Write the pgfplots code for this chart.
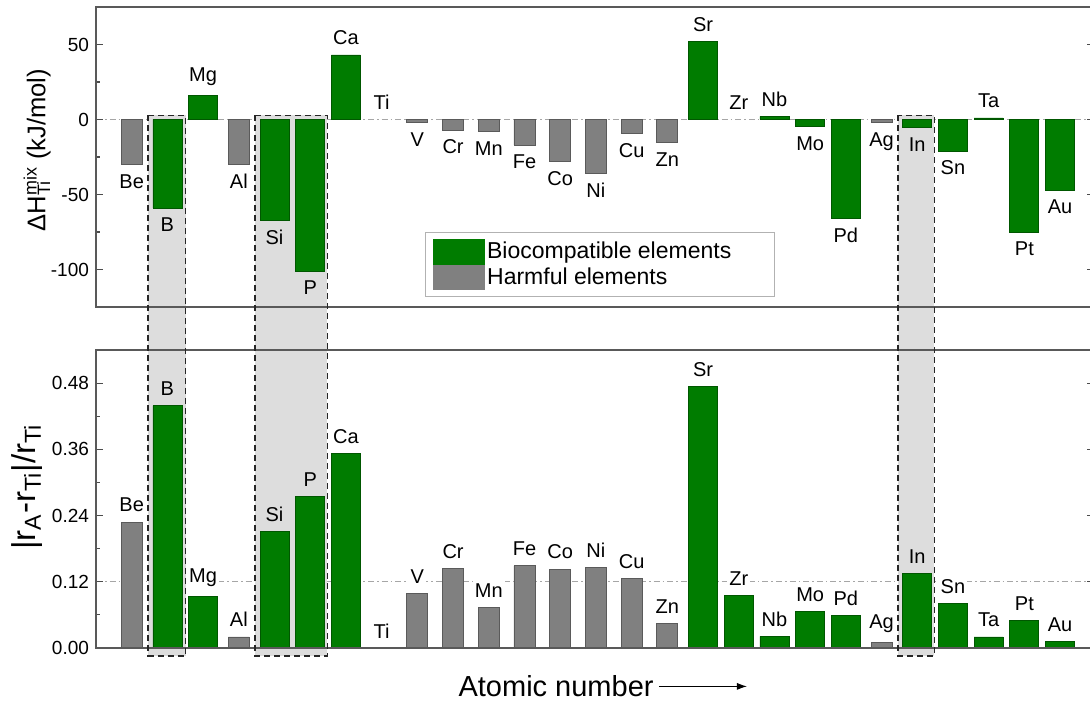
\documentclass[border=0pt]{standalone}
\usepackage{fontspec}
\setmainfont{Liberation Sans}
\usepackage{pgfplots}
\pgfplotsset{compat=1.18}
\usetikzlibrary{arrows.meta}
\definecolor{bargreen}{RGB}{0,124,0}
\definecolor{bargray}{RGB}{128,128,128}
\definecolor{boxgray}{RGB}{221,221,221}

\pgfplotsset{
 panel/.style={
  width=499pt, scale only axis, xmin=-1, xmax=26.95,
  xtick=\empty, clip=false, axis on top,
  ytick pos=both, yticklabel pos=left, tick align=inside,
  major tick length=3.5pt, minor tick length=2pt,
  minor y tick num=1,
  tick style={line width=0.6pt, black!70},
  axis line style={line width=1pt, black!65},
  /pgf/number format/assume math mode=true,
  yticklabel style={font=\fontsize{9.5}{11}\selectfont},
 },
 lab/.style={point meta=y, visualization depends on={value \thisrow{l} \as \lbl},
  nodes near coords={\lbl}, nodes near coords align=vertical,
  every node near coord/.append style={font=\fontsize{10}{12}\selectfont, inner sep=1pt, outer sep=4pt}},
 wlab/.style={every node near coord/.append style={fill=white}},
 gbar/.style={ybar, bar width=14.5pt, bar shift=0pt, fill=bargreen, draw=bargreen!70!black, line width=0.4pt, forget plot, lab},
 hbar/.style={ybar, bar width=10.5pt, bar shift=0pt, fill=bargray, draw=bargray!70!black, line width=0.4pt, forget plot, lab},
 nbar/.style={ybar, bar width=10pt, bar shift=0pt, draw=none, fill=none, forget plot, lab},
 refline/.style={draw=gray!70, dash pattern=on 3pt off 1.5pt on 0.8pt off 1.5pt, line width=0.7pt, forget plot, mark=none},
 boxfill/.style={fill=boxgray, draw=none, forget plot, mark=none},
}

\begin{document}
\begin{tikzpicture}
\useasboundingbox (-48pt,-27pt) rectangle (497pt,324pt);
\clip (-48pt,-27pt) rectangle (497pt,324pt);

% ---------------- top panel ----------------
\begin{axis}[panel, at={(0,170.5pt)}, anchor=south west,
  height=150pt, ymin=-125, ymax=75, ytick={-100,-50,0,50},
  ylabel={ΔH\rlap{\textsubscript{Ti}}\textsuperscript{mix} (kJ/mol)},
  ylabel style={at={(axis description cs:-0.059,0.523)}, anchor=center, font=\fontsize{12.8}{15}\selectfont},
  legend style={at={(axis description cs:0.3297,0.25)}, anchor=north west, draw=black!30, line width=0.5pt,
    font=\fontsize{11.5}{13}\selectfont, row sep=0pt, inner sep=3.5pt,
    nodes={inner sep=1.3pt}, cells={anchor=west}},
  legend image code/.code={\fill[#1, draw=none] (0pt,-6.3pt) rectangle (26pt,6.3pt);},
]
\addplot[refline] coordinates {(-1,0) (26.95,0)};
\addplot[boxfill] coordinates {(0.46,2.7) (1.51,2.7) (1.51,-154) (0.46,-154)};
\addplot[boxfill] coordinates {(3.45,2.7) (5.48,2.7) (5.48,-154) (3.45,-154)};
\addplot[boxfill] coordinates {(21.46,2.7) (22.48,2.7) (22.48,-154) (21.46,-154)};

\addplot[gbar, wlab] table[x=x, y=y] {
x y l
2 16 Mg
6 43 Ca
16 52 Sr
18 2 Nb
19 -4.5 Mo
20 -66 Pd
23 -21 Sn
24 1 Ta
25 -75 Pt
26 -47 Au
};
\addplot[gbar] table[x=x, y=y] {
x y l
1 -59 B
4 -67 Si
5 -101 P
22 -5.5 In
};
\addplot[hbar, wlab] table[x=x, y=y] {
x y l
0 -30 Be
3 -30 Al
8 -2 V
9 -7 Cr
10 -8 Mn
11 -17 Fe
12 -28 Co
13 -36 Ni
14 -9.5 Cu
15 -15.5 Zn
21 -2 Ag
};
\addplot[nbar] table[x=x, y=y] {
x y l
7 0 Ti
17 0 Zr
};
\addlegendimage{fill=bargreen}
\addlegendentry{Biocompatible elements\hspace*{17pt}\null}
\addlegendimage{fill=bargray}
\addlegendentry{Harmful elements}
\coordinate (b1) at (axis cs:0.46,2.7);
\coordinate (s1) at (axis cs:3.45,2.7);
\coordinate (i1) at (axis cs:21.46,2.7);
\end{axis}

% ---------------- bottom panel ----------------
\begin{axis}[panel, at={(0,0)}, anchor=south west,
  height=149pt, ymin=0, ymax=0.54, ytick={0,0.12,0.24,0.36,0.48},
  yticklabel style={/pgf/number format/.cd, fixed, fixed zerofill, precision=2},
  ylabel={|r\textsubscript{A}-r\textsubscript{Ti}|/r\textsubscript{Ti}},
  ylabel style={at={(axis description cs:-0.069,0.54)}, anchor=center, font=\fontsize{16.5}{19}\selectfont},
  xlabel={Atomic number},
  xlabel style={name=xl, at={(axis description cs:0.461,-0.1644)}, anchor=base, inner sep=0pt, font=\fontsize{14.5}{17}\selectfont},
]
\addplot[refline] coordinates {(-1,0.12) (26.95,0.12)};
\addplot[boxfill] coordinates {(0.46,0.54) (1.51,0.54) (1.51,-0.0145) (0.46,-0.0145)};
\addplot[boxfill] coordinates {(3.45,0.54) (5.48,0.54) (5.48,-0.0145) (3.45,-0.0145)};
\addplot[boxfill] coordinates {(21.46,0.54) (22.48,0.54) (22.48,-0.0145) (21.46,-0.0145)};

\addplot[gbar, wlab] table[x=x, y=y] {
x y l
2 0.0936 Mg
6 0.353 Ca
16 0.474 Sr
17 0.0954 Zr
18 0.021 Nb
19 0.0664 Mo
20 0.0586 Pd
23 0.0803 Sn
24 0.020 Ta
25 0.050 Pt
26 0.012 Au
};
\addplot[gbar] table[x=x, y=y] {
x y l
1 0.439 B
4 0.211 Si
5 0.275 P
22 0.1347 In
};
\addplot[hbar, wlab] table[x=x, y=y] {
x y l
0 0.228 Be
3 0.020 Al
8 0.0996 V
9 0.1437 Cr
10 0.0743 Mn
11 0.149 Fe
12 0.143 Co
13 0.1467 Ni
14 0.1256 Cu
15 0.044 Zn
21 0.0103 Ag
};
\addplot[nbar] table[x=x, y=y] {
x y l
7 0 Ti
};
\coordinate (b2) at (axis cs:1.51,-0.0145);
\coordinate (s2) at (axis cs:5.48,-0.0145);
\coordinate (i2) at (axis cs:22.48,-0.0145);
\end{axis}

\draw[black!85, dash pattern=on 3pt off 2pt, line width=0.7pt] (b1) rectangle (b2);
\draw[black!85, dash pattern=on 3pt off 2pt, line width=0.7pt] (s1) rectangle (s2);
\draw[black!85, dash pattern=on 3pt off 2pt, line width=0.7pt] (i1) rectangle (i2);
\draw[-{Latex[length=5pt,width=3.5pt]}, line width=0.5pt] ([xshift=2.5pt,yshift=5.3pt]xl.base east) -- ++(44pt,0);
\end{tikzpicture}
\end{document}
